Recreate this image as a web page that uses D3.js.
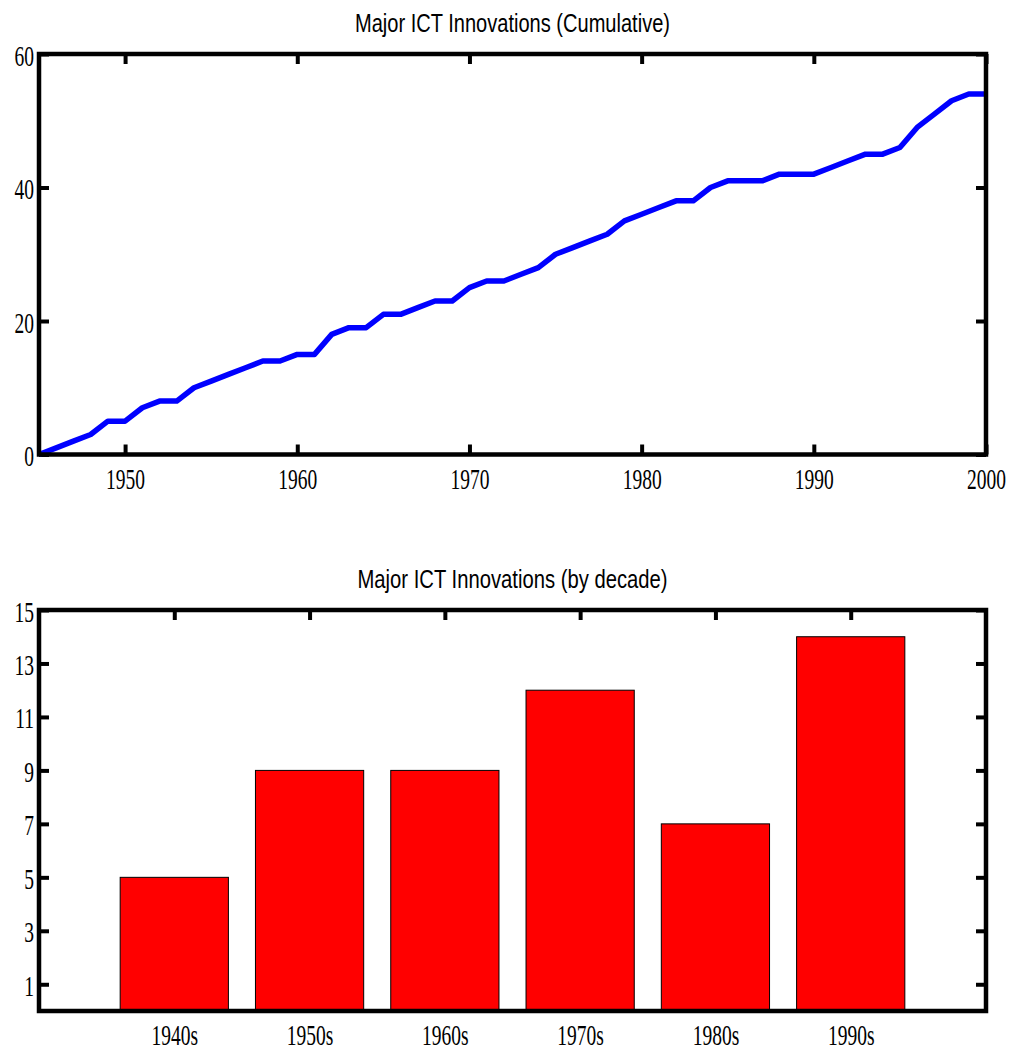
<!DOCTYPE html>
<html>
<head>
<meta charset="utf-8">
<script src="https://cdn.jsdelivr.net/npm/d3@7"></script>
<style>
  body { margin: 0; background: #fff; }
  svg { display: block; }
</style>
</head>
<body>
<svg id="chart" width="1010" height="1051"></svg>
<script>
// cumulative series
const years = [1945, 1946, 1947, 1948, 1949, 1950, 1951, 1952, 1953, 1954,
  1955, 1956, 1957, 1958, 1959, 1960, 1961, 1962, 1963, 1964,
  1965, 1966, 1967, 1968, 1969, 1970, 1971, 1972, 1973, 1974,
  1975, 1976, 1977, 1978, 1979, 1980, 1981, 1982, 1983, 1984,
  1985, 1986, 1987, 1988, 1989, 1990, 1991, 1992, 1993, 1994,
  1995, 1996, 1997, 1998, 1999, 2000];
const cumulative = [0, 1, 2, 3, 5, 5, 7, 8, 8, 10,
  11, 12, 13, 14, 14, 15, 15, 18, 19, 19,
  21, 21, 22, 23, 23, 25, 26, 26, 27, 28,
  30, 31, 32, 33, 35, 36, 37, 38, 38, 40,
  41, 41, 41, 42, 42, 42, 43, 44, 45, 45,
  46, 49, 51, 53, 54, 54];
const yearTicks = [1950, 1960, 1970, 1980, 1990, 2000];
const cumTicks = [0, 20, 40, 60];

// by decade
const decades = ['1940s', '1950s', '1960s', '1970s', '1980s', '1990s'];
const decadeCounts = [5, 9, 9, 12, 7, 14];
const countTicks = [1, 3, 5, 7, 9, 11, 13, 15];

const left = 39, right = 986;
const labelFont = '"Liberation Serif", "Times New Roman", serif';
const titleFont = '"Liberation Sans", Arial, sans-serif';
const squeeze = 0.65;

const svg = d3.select('#chart');

function styleAxis(g, side) {
  g.select('.domain').remove();
  g.selectAll('.tick line').attr('stroke', '#000').attr('stroke-width', 4);
  g.selectAll('.tick text')
    .attr('fill', '#000')
    .style('font-family', labelFont)
    .style('font-size', '30px');
  if (side === 'bottom') {
    g.selectAll('.tick text').attr('y', 0).attr('dy', null)
      .attr('transform', 'translate(0,34) scale(' + squeeze + ',1)');
  } else if (side === 'left') {
    g.selectAll('.tick text').attr('x', 0).attr('dy', null)
      .attr('transform', 'translate(-5,11) scale(' + squeeze + ',1)');
  } else {
    g.selectAll('.tick text').remove();
  }
}

function frame(top, bottom) {
  svg.append('rect')
    .attr('x', left).attr('y', top)
    .attr('width', right - left).attr('height', bottom - top)
    .attr('fill', 'none').attr('stroke', '#000').attr('stroke-width', 4.5);
}

function title(text, y, w) {
  svg.append('text')
    .attr('x', (left + right) / 2).attr('y', y)
    .attr('text-anchor', 'middle')
    .attr('textLength', w).attr('lengthAdjust', 'spacingAndGlyphs')
    .style('font-family', titleFont).style('font-size', '26px')
    .text(text);
}

// ---- top: cumulative line ----
const top1 = 54, bot1 = 454.5;
const x1 = d3.scaleLinear().domain([1945, 2000]).range([left, right]);
const y1 = d3.scaleLinear().domain([0, 60]).range([bot1, top1]);

svg.append('g').attr('transform', `translate(0,${bot1})`)
  .call(d3.axisBottom(x1).tickValues(yearTicks).tickFormat(d3.format('d')).tickSizeInner(-10).tickSizeOuter(0))
  .call(g => styleAxis(g, 'bottom'));
svg.append('g').attr('transform', `translate(0,${top1})`)
  .call(d3.axisTop(x1).tickValues(yearTicks).tickSizeInner(-10).tickSizeOuter(0))
  .call(g => styleAxis(g, 'top'));
svg.append('g').attr('transform', `translate(${left},0)`)
  .call(d3.axisLeft(y1).tickValues(cumTicks).tickSizeInner(-10).tickSizeOuter(0))
  .call(g => styleAxis(g, 'left'));
svg.append('g').attr('transform', `translate(${right},0)`)
  .call(d3.axisRight(y1).tickValues(cumTicks).tickSizeInner(-10).tickSizeOuter(0))
  .call(g => styleAxis(g, 'right'));

const line = d3.line().x((d, i) => x1(years[i])).y(d => y1(d));
svg.append('path')
  .datum(cumulative)
  .attr('d', line)
  .attr('fill', 'none')
  .attr('stroke', '#0000ff')
  .attr('stroke-width', 5.5)
  .attr('stroke-linejoin', 'round');

frame(top1, bot1);
title('Major ICT Innovations (Cumulative)', 31.5, 315);

// ---- bottom: bars by decade ----
const top2 = 610, bot2 = 1011;
const x2 = d3.scaleLinear().domain([0, 7]).range([left, right]);
const y2 = d3.scaleLinear().domain([0, 15]).range([bot2, top2]);
const pos = decades.map((d, i) => i + 1);

svg.append('g').attr('transform', `translate(0,${top2})`)
  .call(d3.axisTop(x2).tickValues(pos).tickSizeInner(-10).tickSizeOuter(0))
  .call(g => styleAxis(g, 'top'));
svg.append('g').attr('transform', `translate(${left},0)`)
  .call(d3.axisLeft(y2).tickValues(countTicks).tickSizeInner(-10).tickSizeOuter(0))
  .call(g => styleAxis(g, 'left'));
svg.append('g').attr('transform', `translate(${right},0)`)
  .call(d3.axisRight(y2).tickValues(countTicks).tickSizeInner(-10).tickSizeOuter(0))
  .call(g => styleAxis(g, 'right'));

svg.append('g')
  .selectAll('rect')
  .data(decadeCounts)
  .join('rect')
  .attr('x', (d, i) => x2(pos[i] - 0.4))
  .attr('width', x2(0.8) - x2(0))
  .attr('y', d => y2(d))
  .attr('height', d => y2(0) - y2(d))
  .attr('fill', '#ff0000')
  .attr('stroke', '#000')
  .attr('stroke-width', 1);

svg.append('g').attr('transform', `translate(0,${bot2})`)
  .call(d3.axisBottom(x2).tickValues(pos).tickFormat((d, i) => decades[i]).tickSize(0))
  .call(g => styleAxis(g, 'bottom'));

frame(top2, bot2);
title('Major ICT Innovations (by decade)', 587.5, 310);
</script>
</body>
</html>
